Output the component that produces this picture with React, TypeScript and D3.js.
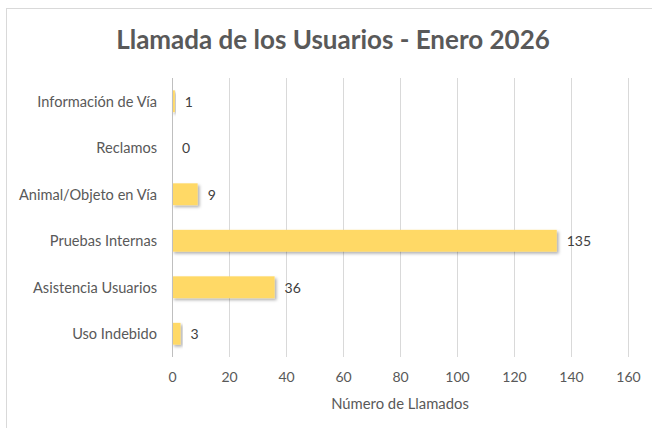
import { useEffect, useRef } from 'react';
import * as d3 from 'd3';

const categories = [
  'Información de Vía',
  'Reclamos',
  'Animal/Objeto en Vía',
  'Pruebas Internas',
  'Asistencia Usuarios',
  'Uso Indebido',
];
const llamados = [1, 0, 9, 135, 36, 3];
const xTicks = [0, 20, 40, 60, 80, 100, 120, 140, 160];

const title = 'Llamada de los Usuarios - Enero 2026';
const xTitle = 'Número de Llamados';

export default function App() {
  const svgRef = useRef<SVGSVGElement>(null);
  const width = 652;
  const height = 428;

  useEffect(() => {
    if (!svgRef.current) return;
    const svg = d3.select(svgRef.current);
    svg.selectAll('*').remove();

    const font = 'Lato, Calibri, sans-serif';
    const textColor = '#595959';
    const margin = { top: 78, right: 24, bottom: 71, left: 172 };
    const innerWidth = width - margin.left - margin.right;
    const innerHeight = height - margin.top - margin.bottom;

    // chart area border (only top and left visible in the crop)
    svg.append('rect')
      .attr('x', 6.5)
      .attr('y', 8.5)
      .attr('width', width + 10)
      .attr('height', height + 10)
      .attr('fill', '#fff')
      .attr('stroke', '#d9d9d9');

    const defs = svg.append('defs');
    const shadow = defs.append('filter')
      .attr('id', 'barShadow')
      .attr('x', '-10%').attr('y', '-20%')
      .attr('width', '130%').attr('height', '160%');
    shadow.append('feDropShadow')
      .attr('dx', 2).attr('dy', 2)
      .attr('stdDeviation', 1.5)
      .attr('flood-color', '#000')
      .attr('flood-opacity', 0.3);

    const x = d3.scaleLinear().domain([0, 160]).range([0, innerWidth]);
    const y = d3.scaleBand()
      .domain(categories)
      .range([0, innerHeight])
      .paddingInner(0.53)
      .paddingOuter(0.265);

    svg.append('text')
      .attr('x', 333)
      .attr('y', 49)
      .attr('text-anchor', 'middle')
      .style('font-family', font)
      .style('font-size', '26px')
      .style('font-weight', 'bold')
      .style('fill', textColor)
      .text(title);

    const g = svg.append('g')
      .attr('transform', `translate(${margin.left},${margin.top})`);

    // gridlines
    g.append('g')
      .selectAll('line')
      .data(xTicks.slice(1))
      .join('line')
      .attr('x1', d => Math.round(x(d)) + 0.5)
      .attr('x2', d => Math.round(x(d)) + 0.5)
      .attr('y1', 0)
      .attr('y2', innerHeight)
      .attr('stroke', '#d9d9d9');

    // bars
    g.append('g')
      .selectAll('rect')
      .data(llamados)
      .join('rect')
      .attr('x', 0)
      .attr('y', (_, i) => y(categories[i]) || 0)
      .attr('width', d => x(d))
      .attr('height', y.bandwidth())
      .attr('fill', '#ffd966')
      .attr('filter', 'url(#barShadow)');

    // value labels
    g.append('g')
      .selectAll('text')
      .data(llamados)
      .join('text')
      .attr('x', d => x(d) + 10)
      .attr('y', (_, i) => (y(categories[i]) || 0) + y.bandwidth() / 2)
      .attr('dy', '0.38em')
      .style('font-family', font)
      .style('font-size', '14px')
      .style('fill', '#404040')
      .text(d => d);

    // y axis
    const yAxis = g.append('g')
      .call(d3.axisLeft(y).tickSize(0).tickPadding(15));
    yAxis.select('.domain').attr('stroke', '#bfbfbf').attr('d', `M0.5,0V${innerHeight}`);
    yAxis.selectAll('text')
      .attr('dy', '0.38em')
      .style('font-family', font)
      .style('font-size', '14.6px')
      .style('fill', textColor);

    // x axis
    const xAxis = g.append('g')
      .attr('transform', `translate(0,${innerHeight})`)
      .call(d3.axisBottom(x).tickValues(xTicks).tickSize(0).tickPadding(15));
    xAxis.select('.domain').remove();
    xAxis.selectAll('text')
      .style('font-family', font)
      .style('font-size', '14px')
      .style('fill', textColor);

    g.append('text')
      .attr('x', innerWidth / 2)
      .attr('y', innerHeight + 52)
      .attr('text-anchor', 'middle')
      .style('font-family', font)
      .style('font-size', '14.8px')
      .style('fill', textColor)
      .text(xTitle);
  }, []);

  return (
    <svg
      ref={svgRef}
      width={width}
      height={height}
      style={{ position: 'absolute', left: 0, top: 0 }}
    />
  );
}
